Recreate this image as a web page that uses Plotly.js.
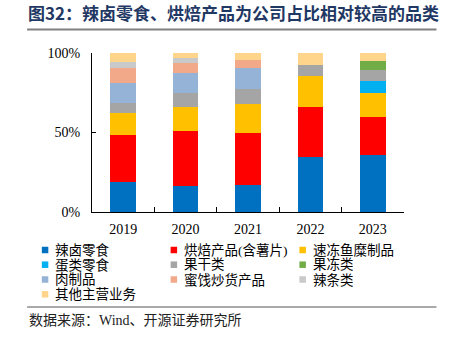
<!DOCTYPE html>
<html>
<head>
<meta charset="utf-8">
<script src="https://cdn.plot.ly/plotly-3.0.1.min.js"></script>
<style>html,body{margin:0;padding:0;background:#fff;}#chart{width:454px;height:340px;}</style>
</head>
<body>
<div id="chart"></div>
<script>
var years = ['2019', '2020', '2021', '2022', '2023'];
var seriesNames = ['辣卤零食', '烘焙产品(含薯片)', '速冻鱼糜制品', '蛋类零食', '果干类', '果冻类', '肉制品', '蜜饯炒货产品', '辣条类', '其他主营业务'];
var seriesColors = ['#0070C0', '#FF0000', '#FFC000', '#00B0F0', '#A5A5A5', '#70AD47', '#95B3D7', '#F2A98A', '#C9C9C9', '#FFD58C'];
var spicy = [18.9, 16.6, 17.1, 34.3, 36.0];
var bakery = [29.5, 34.6, 32.8, 32.0, 24.0];
var frozenFish = [14.1, 15.1, 18.1, 19.4, 14.9];
var eggSnacks = [0, 0, 0, 0, 7.8];
var driedFruit = [6.3, 8.4, 9.5, 6.5, 6.8];
var jelly = [0, 0, 0, 0, 5.2];
var meat = [12.3, 12.7, 13.2, 0, 0];
var preserved = [9.2, 6.5, 4.7, 0, 0];
var spicyStrips = [3.8, 2.7, 0, 0, 0];
var other = [5.9, 3.4, 4.6, 7.8, 5.3];
var yTicks = [0, 50, 100];
var yTickText = ['0%', '50%', '100%'];
var titleText = '图32：辣卤零食、烘焙产品为公司占比相对较高的品类';
var sourceText = '数据来源：Wind、开源证券研究所';

var seriesValues = [spicy, bakery, frozenFish, eggSnacks, driedFruit, jelly, meat, preserved, spicyStrips, other];

var W = 454, H = 340;
var mL = 92, mR = 49.5, mT = 53, mB = 128;
var plotW = W - mL - mR, plotH = H - mT - mB;
function px2x(px) { return (px - mL) / plotW; }
function py2y(py) { return (H - mB - py) / plotH; }

var mixFont = 'Liberation Serif, "Noto Sans CJK SC", serif';

var traces = seriesNames.map(function (name, i) {
  return {
    type: 'bar',
    name: name,
    x: years,
    y: seriesValues[i],
    width: 0.41,
    marker: { color: seriesColors[i], line: { width: 0 } },
    showlegend: false,
    hoverinfo: 'x+y+name'
  };
});

var shapes = [
  { type: 'line', xref: 'paper', yref: 'paper', x0: px2x(27), x1: px2x(437), y0: py2y(29.5), y1: py2y(29.5), line: { color: '#808080', width: 2 } },
  { type: 'line', xref: 'paper', yref: 'paper', x0: px2x(27), x1: px2x(437), y0: py2y(307), y1: py2y(307), line: { color: '#555555', width: 1 } }
];
var annotations = [
  { text: sourceText, xref: 'paper', yref: 'paper', x: px2x(27), y: py2y(320), xanchor: 'left', yanchor: 'middle', showarrow: false, font: { family: mixFont, size: 14, color: '#222' } }
];

var colText = [53, 182, 311];
var rowY = [250, 264.7, 279.5, 294.3];
var sq = 6.5;
seriesNames.forEach(function (name, i) {
  var r = Math.floor(i / 3), c = i % 3;
  var cx = colText[c] - 8;
  var cy = rowY[r];
  shapes.push({ type: 'rect', xref: 'paper', yref: 'paper', x0: px2x(cx - sq / 2), x1: px2x(cx + sq / 2), y0: py2y(cy + sq / 2), y1: py2y(cy - sq / 2), fillcolor: seriesColors[i], line: { width: 0 } });
  annotations.push({ text: name, xref: 'paper', yref: 'paper', x: px2x(colText[c]), y: py2y(cy), xanchor: 'left', yanchor: 'middle', showarrow: false, font: { family: mixFont, size: 13.5, color: '#000' } });
});

var layout = {
  width: W, height: H,
  margin: { l: mL, r: mR, t: mT, b: mB, pad: 0 },
  paper_bgcolor: '#fff', plot_bgcolor: '#fff',
  barmode: 'stack',
  bargap: 0.59,
  title: { text: titleText, x: 28 / W, xanchor: 'left', xref: 'container', y: 1 - 14 / H, yanchor: 'middle', yref: 'container', font: { family: 'Noto Sans CJK SC', size: 17, color: '#1F3864', weight: 'bold' } },
  xaxis: {
    type: 'category', range: [-0.5, 4.5], showline: true, linecolor: '#000', linewidth: 1,
    ticks: 'inside', tickson: 'boundaries', ticklen: 5, tickcolor: '#000', showgrid: false,
    tickfont: { family: 'Liberation Serif', size: 14, color: '#000' }, ticklabelstandoff: 4, fixedrange: true
  },
  yaxis: {
    range: [0, 100], tickvals: yTicks, ticktext: yTickText, showline: true, linecolor: '#000', linewidth: 1,
    ticks: 'inside', ticklen: 4, tickcolor: '#000', showgrid: false, zeroline: false,
    tickfont: { family: 'Liberation Serif', size: 14, color: '#000' }, ticklabelstandoff: 8, fixedrange: true
  },
  shapes: shapes,
  annotations: annotations,
  showlegend: false
};

Plotly.newPlot('chart', traces, layout, { displayModeBar: false, staticPlot: true });
</script>
</body>
</html>
